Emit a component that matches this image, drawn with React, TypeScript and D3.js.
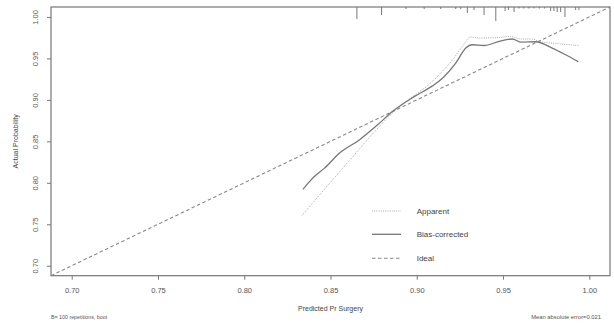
import React, { useEffect, useRef } from 'react';
import * as d3 from 'd3';

// apparent calibration curve (predicted, observed)
const apparentX = [0.8335, 0.857, 0.8879, 0.9111, 0.9207, 0.9264, 0.9313, 0.9361, 0.9477, 0.9545, 0.9602, 0.967, 0.9708, 0.9785, 0.9936];
const apparentY = [0.7607, 0.8174, 0.888, 0.9264, 0.9483, 0.9644, 0.9758, 0.9746, 0.9753, 0.9765, 0.9734, 0.9734, 0.9705, 0.9685, 0.9656];

// bias-corrected curve
const biasX = [0.834, 0.8377, 0.8416, 0.8464, 0.8551, 0.8667, 0.8773, 0.8859, 0.8985, 0.9091, 0.9149, 0.9226, 0.9284, 0.9322, 0.939, 0.9477, 0.9554, 0.9602, 0.9689, 0.9785, 0.9863, 0.9936];
const biasY = [0.792, 0.8012, 0.8093, 0.8174, 0.8356, 0.8517, 0.8699, 0.886, 0.9039, 0.9169, 0.9262, 0.9443, 0.9625, 0.9665, 0.9656, 0.9705, 0.9734, 0.9697, 0.9701, 0.9625, 0.9544, 0.9462];

// distribution of predictions (rug at top)
const rugValues = [0.8653, 0.8796, 0.8937, 0.9043, 0.9139, 0.9226, 0.9255, 0.9293, 0.9332, 0.939, 0.9458, 0.9512, 0.9531, 0.9564, 0.9593, 0.962, 0.965, 0.968, 0.971, 0.974, 0.9776, 0.9795, 0.9814, 0.9834, 0.9859, 0.9921, 0.994];
const rugCounts = [12, 8, 2, 2, 2, 2, 2, 6, 3, 8, 14, 4, 3, 5, 1.5, 1.5, 1.5, 1.5, 1.5, 1.5, 4, 4, 5, 5, 10, 3, 3];

const xTicks = [0.7, 0.75, 0.8, 0.85, 0.9, 0.95, 1.0];
const yTicks = [0.7, 0.75, 0.8, 0.85, 0.9, 0.95, 1.0];
const axisRange = [0.688, 1.012];

const legendItems = ['Apparent', 'Bias-corrected', 'Ideal'];

const CalibrationPlot = () => {
  const ref = useRef<SVGSVGElement>(null);

  useEffect(() => {
    const svg = d3.select(ref.current);
    svg.selectAll('*').remove();

    const width = 614;
    const height = 325;
    const margin = { top: 7, right: 4, bottom: 49.3, left: 51 };
    const font = 'Liberation Sans, Arial, sans-serif';

    svg.attr('width', width).attr('height', height);

    svg.append('rect').attr('width', width).attr('height', height).attr('fill', '#fff');

    const x = d3.scaleLinear()
      .domain(axisRange)
      .range([margin.left, width - margin.right]);

    const y = d3.scaleLinear()
      .domain(axisRange)
      .range([height - margin.bottom, margin.top]);

    const g = svg.append('g');

    // Box
    g.append('rect')
      .attr('x', x(axisRange[0]))
      .attr('y', y(axisRange[1]))
      .attr('width', x(axisRange[1]) - x(axisRange[0]))
      .attr('height', y(axisRange[0]) - y(axisRange[1]))
      .attr('fill', 'none')
      .attr('stroke', '#777')
      .attr('stroke-width', 1.2);

    // Axes
    const xAxis = g.append('g')
      .attr('transform', `translate(0, ${y(axisRange[0])})`)
      .call(d3.axisBottom(x).tickValues(xTicks).tickSize(4).tickPadding(8).tickFormat(d3.format('.2f')));
    xAxis.select('.domain').remove();
    xAxis.selectAll('line').attr('stroke', '#777');
    xAxis.selectAll('text').attr('font-size', 7.5).attr('font-family', font).attr('fill', '#555');

    const yAxis = g.append('g')
      .attr('transform', `translate(${x(axisRange[0])}, 0)`)
      .call(d3.axisLeft(y).tickValues(yTicks).tickSize(4).tickFormat(d3.format('.2f')));
    yAxis.select('.domain').remove();
    yAxis.selectAll('line').attr('stroke', '#777');
    yAxis.selectAll('text')
      .attr('transform', 'rotate(-90)')
      .attr('x', 0)
      .attr('y', -13.3)
      .attr('dy', '0em')
      .attr('text-anchor', 'middle')
      .attr('font-size', 7.5)
      .attr('font-family', font)
      .attr('fill', '#555');

    // Axis labels
    svg.append('text')
      .attr('x', (x(axisRange[0]) + x(axisRange[1])) / 2)
      .attr('y', 310.5)
      .attr('text-anchor', 'middle')
      .attr('font-size', 7)
      .attr('font-family', font)
      .attr('fill', '#444')
      .text('Predicted Pr Surgery');

    svg.append('text')
      .attr('transform', 'rotate(-90)')
      .attr('x', -(y(axisRange[0]) + y(axisRange[1])) / 2)
      .attr('y', 17.5)
      .attr('text-anchor', 'middle')
      .attr('font-size', 7)
      .attr('font-family', font)
      .attr('fill', '#444')
      .text('Actual Probability');

    // Footer notes
    svg.append('text')
      .attr('x', 51)
      .attr('y', 318.5)
      .attr('font-size', 5.3)
      .attr('font-family', font)
      .attr('fill', '#555')
      .text('B= 100 repetitions, boot');

    svg.append('text')
      .attr('x', 601)
      .attr('y', 318.5)
      .attr('text-anchor', 'end')
      .attr('font-size', 5.8)
      .attr('font-family', font)
      .attr('fill', '#555')
      .text('Mean absolute error=0.021');

    // Rug of predictions
    const rugLen = d3.scaleLinear().domain([0, d3.max(rugCounts) as number]).range([0, 14]);
    g.selectAll('line.rug')
      .data(rugValues)
      .enter()
      .append('line')
      .attr('class', 'rug')
      .attr('x1', d => x(d))
      .attr('x2', d => x(d))
      .attr('y1', y(axisRange[1]))
      .attr('y2', (d, i) => y(axisRange[1]) + rugLen(rugCounts[i]))
      .attr('stroke', '#777')
      .attr('stroke-width', 1);

    // Ideal line
    g.append('line')
      .attr('x1', x(axisRange[0]))
      .attr('y1', y(axisRange[0]))
      .attr('x2', x(axisRange[1]))
      .attr('y2', y(axisRange[1]))
      .attr('stroke', '#888')
      .attr('stroke-width', 1.1)
      .attr('stroke-dasharray', '3.5,2.5');

    const line = d3.line<[number, number]>()
      .x(d => x(d[0]))
      .y(d => y(d[1]))
      .curve(d3.curveMonotoneX);

    // Apparent
    g.append('path')
      .datum(apparentX.map((v, i) => [v, apparentY[i]] as [number, number]))
      .attr('fill', 'none')
      .attr('stroke', '#aaa')
      .attr('stroke-width', 1)
      .attr('stroke-dasharray', '1,1.2')
      .attr('d', line);

    // Bias-corrected
    g.append('path')
      .datum(biasX.map((v, i) => [v, biasY[i]] as [number, number]))
      .attr('fill', 'none')
      .attr('stroke', '#777')
      .attr('stroke-width', 1.3)
      .attr('d', line);

    // Legend
    const legendStyles = [
      { stroke: '#aaa', dash: '1,1.2', width: 1 },
      { stroke: '#777', dash: null, width: 1.3 },
      { stroke: '#888', dash: '3.5,2.5', width: 1.1 },
    ];
    const legendY = [211, 234.3, 258.3];
    const legend = g.append('g');
    legendItems.forEach((name, i) => {
      legend.append('line')
        .attr('x1', 372)
        .attr('x2', 401)
        .attr('y1', legendY[i])
        .attr('y2', legendY[i])
        .attr('stroke', legendStyles[i].stroke)
        .attr('stroke-width', legendStyles[i].width)
        .attr('stroke-dasharray', legendStyles[i].dash);
      legend.append('text')
        .attr('x', 416.7)
        .attr('y', legendY[i] + 3)
        .attr('font-size', 8)
        .attr('font-family', font)
        .attr('fill', '#444')
        .text(name);
    });
  }, []);

  return <svg ref={ref} style={{ position: 'absolute', left: 0, top: 0, display: 'block' }}></svg>;
};

export default function App() {
  return <CalibrationPlot />;
}
